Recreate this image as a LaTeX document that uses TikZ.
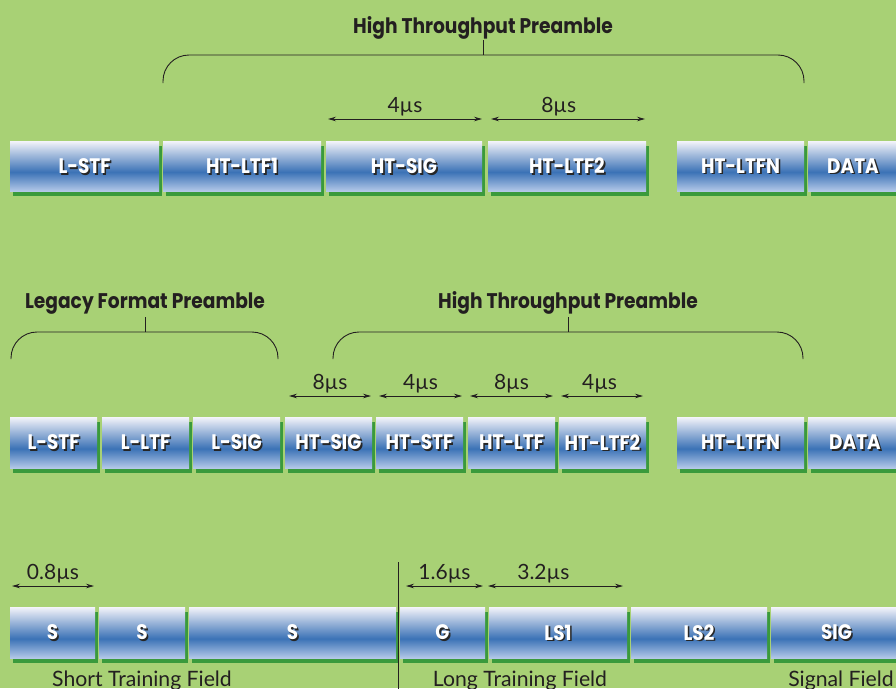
\documentclass[tikz,border=0pt]{standalone}
\usepackage{fontspec}
\setmainfont{Lato}
\newfontfamily\headfont{Poppins}[FakeStretch=0.88]
\usetikzlibrary{arrows.meta}

\definecolor{bggreen}{HTML}{A8D175}
\definecolor{dropgreen}{HTML}{3A9A3C}
\definecolor{inkdark}{HTML}{231F20}
\definecolor{fieldtop}{HTML}{F4F4FA}
\definecolor{fieldmid}{HTML}{3B72B6}
\definecolor{fieldlow}{HTML}{B3C8E8}

% vertical shading of a field box: pale top, saturated blue band, light bottom
\pgfdeclareverticalshading{fieldshade}{100bp}{color(0bp)=(fieldlow); color(25bp)=(fieldlow); color(44bp)=(fieldmid); color(75bp)=(fieldtop); color(100bp)=(fieldtop)}

\tikzset{
  fieldbox/.style={shading=fieldshade, draw=none, inner sep=0pt, outer sep=0pt},
  fieldlabel/.style={inner sep=0pt, font=\headfont\bfseries\fontsize{21}{21}\selectfont},
  titlelabel/.style={inner sep=0pt, anchor=base, text=inkdark, font=\headfont\bfseries\fontsize{21.2}{21.2}\selectfont},
  dimlabel/.style={inner sep=0pt, anchor=base, text=inkdark, font=\fontsize{21}{21}\selectfont},
  partlabel/.style={inner sep=0pt, anchor=base, text=inkdark, font=\fontsize{21.2}{21.2}\selectfont},
  dimarrow/.style={draw=inkdark, line width=0.8pt, {Stealth[length=8pt,width=4.5pt]}-{Stealth[length=8pt,width=4.5pt]}},
  bracket/.style={draw=inkdark, line width=0.9pt, rounded corners=26pt},
  tick/.style={draw=inkdark, line width=0.9pt},
}

% \field{name}{left}{right}{top}{bottom}{label}
\newcommand\field[6]{%
  \fill[dropgreen] ({#2+3},{#4+5}) rectangle ({#3+3},{#5+5});
  \node[fieldbox, minimum width={#3-#2}, minimum height={#5-#4}] (#1) at ({(#2+#3)/2},{(#4+#5)/2}) {};
  \node[fieldlabel, text=black!85] (#1-shadow) at ([shift={(1.6pt,-1.6pt)}]#1.center) {#6};
  \node[fieldlabel, text=white] (#1-text) at (#1.center) {#6};
}

% \dimension{name}{left}{right}{y}{label}{label position}
\newcommand\dimension[6]{%
  \coordinate (#1-a) at (#2,#4);
  \coordinate (#1-b) at (#3,#4);
  \draw[dimarrow] (#1-a) -- node[dimlabel, pos=#6, yshift=7pt] (#1-label) {#5} (#1-b);
}

\begin{document}
\begin{tikzpicture}[x=1pt, y=-1pt]
\fill[bggreen] (0,0) rectangle (896,688);
\useasboundingbox (0,0) rectangle (896,688);

% ---------- high throughput (greenfield) format ----------
\node[titlelabel] (ht1) at (483,33) {High Throughput Preamble};
\coordinate (ht1-l) at (163,83);
\coordinate (ht1-r) at (804,83);
\coordinate (ht1-m) at (483,55);
\draw[bracket] (ht1-l) |- (ht1-m) -| (ht1-r);
\draw[tick] (ht1-m) -- ++(0,-15);

\dimension{d1}{328}{482}{119}{4µs}{0.5}
\dimension{d2}{491}{645}{119}{8µs}{0.44}

\field{a1}{10}{159}{141}{191}{L-STF}
\field{a2}{163}{321}{141}{191}{HT-LTF1}
\field{a3}{326}{482}{141}{191}{HT-SIG}
\field{a4}{488}{646}{141}{191}{HT-LTF2}
\field{a5}{677}{804}{141}{191}{HT-LTFN}
\field{a6}{808}{898}{141}{191}{DATA}

% ---------- mixed format ----------
\node[titlelabel] (lg2) at (145,308) {Legacy Format Preamble};
\coordinate (lg2-l) at (11,359);
\coordinate (lg2-r) at (278,359);
\coordinate (lg2-m) at (145,332);
\draw[bracket] (lg2-l) |- (lg2-m) -| (lg2-r);
\draw[tick] (lg2-m) -- ++(0,-15);

\node[titlelabel] (ht2) at (568,308) {High Throughput Preamble};
\coordinate (ht2-l) at (333,359);
\coordinate (ht2-r) at (803,359);
\coordinate (ht2-m) at (568,332);
\draw[bracket] (ht2-l) |- (ht2-m) -| (ht2-r);
\draw[tick] (ht2-m) -- ++(0,-15);

\dimension{d3}{289}{371}{396}{8µs}{0.5}
\dimension{d4}{379}{462}{396}{4µs}{0.5}
\dimension{d5}{470}{553}{396}{8µs}{0.5}
\dimension{d6}{561}{643}{396}{4µs}{0.47}

\field{b1}{10}{97}{417}{468}{L-STF}
\field{b2}{102}{189}{417}{468}{L-LTF}
\field{b3}{193}{280}{417}{468}{L-SIG}
\field{b4}{285}{372}{417}{468}{HT-SIG}
\field{b5}{376}{463}{417}{468}{HT-STF}
\field{b6}{468}{555}{417}{468}{HT-LTF}
\field{b7}{559}{646}{417}{468}{HT-LTF2}
\field{b8}{677}{804}{417}{468}{HT-LTFN}
\field{b9}{808}{902}{417}{468}{DATA}

% ---------- legacy training symbols ----------
\dimension{d7}{12}{94}{586}{0.8µs}{0.5}
\dimension{d8}{406}{483}{586}{1.6µs}{0.5}
\dimension{d9}{488}{623}{586}{3.2µs}{0.41}

\field{c1}{10}{95}{607}{658}{S}
\field{c2}{99}{185}{607}{658}{S}
\field{c3}{189}{396}{607}{658}{S}
\field{c4}{400}{485}{607}{658}{G}
\field{c5}{489}{627}{607}{658}{LS1}
\field{c6}{631}{767}{607}{658}{LS2}
\field{c7}{771}{902}{607}{658}{SIG}

\coordinate (sep-top) at (398,562);
\coordinate (sep-bot) at (398,690);
\draw[tick] (sep-top) -- (sep-bot);

\node[partlabel] (stf) at (142,686) {Short Training Field};
\node[partlabel] (ltf) at (520,686) {Long Training Field};
\node[partlabel] (sig) at (841,686) {Signal Field};
\end{tikzpicture}
\end{document}
